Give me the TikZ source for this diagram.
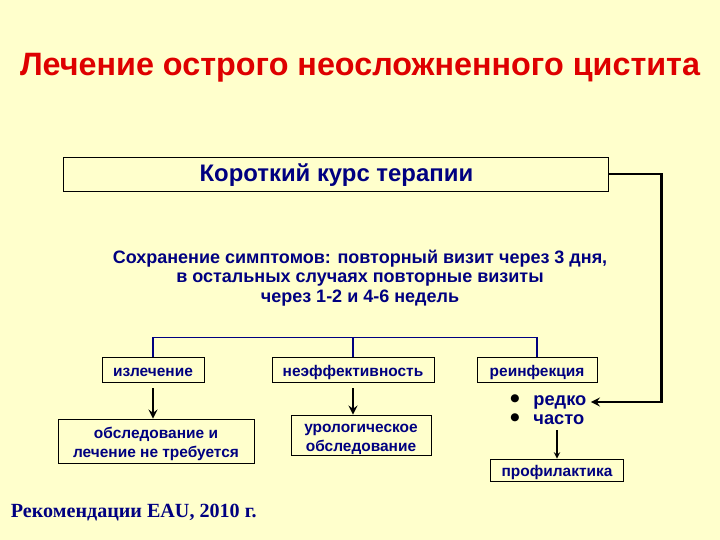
\documentclass[tikz,border=0pt]{standalone}
\usepackage{fontspec}
\setmainfont{Liberation Sans}
\newfontfamily\serifrm{Liberation Serif}
\newfontfamily\simbolo{DejaVu Sans}
\usetikzlibrary{arrows}
\definecolor{fundo}{RGB}{255,255,204}
\definecolor{azul}{RGB}{0,0,128}
\definecolor{titulo}{RGB}{222,0,0}
\newcommand{\pontoitem}{\textcolor{black}{\raisebox{2.6pt}{\simbolo\fontsize{7.5}{8}\selectfont ●}}}
\begin{document}
\begin{tikzpicture}[
  caixa/.style = {draw, fill=fundo, line width=0.6pt, inner sep=0pt,
                  text=azul, align=center, text height=1ex+4pt, text depth=0pt,
                  font=\bfseries\fontsize{11}{13.5}\selectfont},
  duas/.style  = {text height=13.5pt+1ex+4pt},
  item/.style  = {anchor=west, inner sep=1pt, text=azul,
                  font=\bfseries\fontsize{13}{15}\selectfont},
  seta/.style  = {->, line width=1.8pt, shorten <=4pt},
  ramo/.style  = {line width=1.3pt, draw=azul},
  >=stealth
]
  % Fundo
  \fill[fundo] (0,0) rectangle (18,13.5);
  \useasboundingbox (0,0) rectangle (18,13.5);

  % Titulo
  \node[text=titulo, font=\bfseries\fontsize{23}{27}\selectfont] (Tit) at (9,11.8)
        {Лечение острого неосложненного цистита};

  % Curso de terapia
  \node[caixa, minimum width=13.625cm, minimum height=0.85cm, text height=1ex+6pt,
        font=\bfseries\fontsize{17}{20}\selectfont] (Curso) at (8.41,9.15)
        {Короткий курс терапии};
  \node[text=azul, align=center, font=\bfseries\fontsize{12.8}{13.8}\selectfont]
        (Sint) at (9,6.55)
        {Сохранение симптомов: повторный визит через 3 дня,\\
         в остальных случаях повторные визиты\\
         через 1-2 и 4-6 недель};

  % Resultados
  \node[caixa, minimum width=2.55cm, minimum height=0.625cm] (Cura) at (3.825,4.2625)
        {излечение};
  \node[caixa, minimum width=4.05cm, minimum height=0.625cm] (Neff) at (8.825,4.2625)
        {неэффективность};
  \node[caixa, minimum width=3.0cm, minimum height=0.625cm] (Reinf) at (13.425,4.2625)
        {реинфекция};
  \coordinate (topo) at ([yshift=0.475cm]Neff.north);

  \node[caixa, duas, minimum width=4.9cm, minimum height=1.1cm] (Exame) at (3.9,2.475)
        {обследование и\\лечение не требуется};
  \node[caixa, duas, minimum width=3.5cm, minimum height=1.0cm] (Urol) at (9.025,2.625)
        {урологическое\\обследование};
  \node[item] (Redko)  at (12.72,3.45) {\pontoitem\hspace{0.75em}редко};
  \node[item] (Chasto) at (12.72,3.02) {\pontoitem\hspace{0.75em}часто};
  \node[caixa, minimum width=3.325cm, minimum height=0.55cm] (Prof) at (13.925,1.75)
        {профилактика};

  % Ligacoes
  \draw[ramo] (Cura.north) |- (topo) -| (Reinf.north);
  \draw[ramo] (topo) -- (Neff.north);
  \draw[seta] (Cura.south) -- (Cura.south |- Exame.north);
  \draw[seta] (Neff.south) -- (Neff.south |- Urol.north);
  \draw[->, line width=1pt, shorten <=3pt] (Chasto.south -| Prof.north) -- (Prof.north);
  \draw[seta, shorten <=0pt, shorten >=2pt] (Curso.east) -- ++(1.3,0) |- (Redko.east);

  % Fonte
  \node[anchor=west, text=azul, font=\serifrm\bfseries\fontsize{14.3}{16}\selectfont]
        (Rec) at (0.15,0.68) {Рекомендации EAU, 2010 г.};
\end{tikzpicture}
\end{document}
